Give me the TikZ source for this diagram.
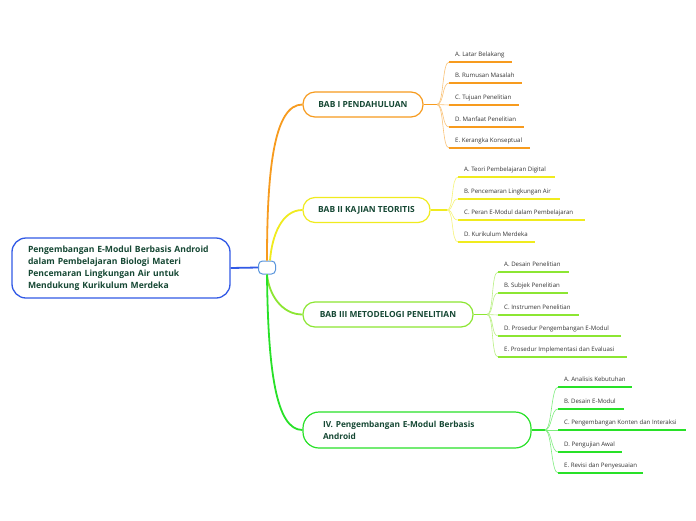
\documentclass[tikz,border=0pt]{standalone}
\usepackage{fontspec}
\setmainfont{Open Sans}
\definecolor{tealtext}{RGB}{22,72,52}
\definecolor{mapblue}{RGB}{50,90,230}
\definecolor{hubblue}{RGB}{90,150,220}
\definecolor{orangeA}{RGB}{247,155,30}
\definecolor{yellowA}{RGB}{240,235,30}
\definecolor{limeA}{RGB}{140,230,50}
\definecolor{greenA}{RGB}{40,225,40}

\begin{document}
\begin{tikzpicture}[
    x=1pt, y=-1pt,
    rootbox/.style={rectangle, rounded corners=14pt, draw=mapblue, line width=1.3pt, fill=white, text width=186pt, inner xsep=16pt, minimum height=60pt, align=left, font=\bfseries\fontsize{8.6}{12}\selectfont, text=tealtext},
    hubbox/.style={rectangle, rounded corners=4pt, draw=hubblue, line width=1pt, fill=white, minimum width=17pt, minimum height=13pt, inner sep=0pt},
    chapter/.style={rectangle, rounded corners=12pt, draw=#1, line width=1.2pt, fill=white, minimum height=25pt, inner sep=0pt, font=\bfseries\fontsize{8.4}{9}\selectfont, text=tealtext},
    branch/.style={draw=#1, line width=1.8pt},
    twig/.style={draw=#1!60, line width=0.6pt},
    topic/.style 2 args={anchor=south west, inner xsep=6pt, inner ysep=3.5pt, text height=4.5pt, text depth=1.5pt, font=\fontsize{6.1}{7}\selectfont, text=black!80,
      append after command={(\tikzlastnode.south west) edge[draw=#1, line width=1.4pt] ++(#2,0)}}
  ]
    \useasboundingbox[fill=white] (0,0) rectangle (696,520);

    \node[rootbox] (root) at (121,268) {Pengembangan E-Modul Berbasis Android\\dalam Pembelajaran Biologi Materi\\Pencemaran Lingkungan Air untuk\\Mendukung Kurikulum Merdeka};
    \node[hubbox] (hub) at (267,267.5) {};

    \node[chapter=orangeA, minimum width=120pt] (pend) at (363,104.5) {BAB I PENDAHULUAN};
    \node[chapter=yellowA, minimum width=127pt] (kajian) at (366.5,210) {BAB II KAJIAN TEORITIS};
    \node[chapter=limeA, minimum width=170pt] (metode) at (388,314.5) {BAB III METODELOGI PENELITIAN};
    \node[chapter=greenA, rounded corners=16pt, minimum height=36pt, text width=188pt, inner xsep=20pt, align=left, font=\bfseries\fontsize{8.3}{12}\selectfont] (modul) at (417,430) {IV. Pengembangan E-Modul Berbasis\\Android};

    \draw[branch=mapblue] (root.east) -- (hub.west);
    \draw[branch=orangeA] (hub.north) .. controls (267,170) and (274,104.5) .. (pend.west);
    \draw[branch=yellowA] ([xshift=3pt]hub.north) .. controls (272,235) and (282,210) .. (kajian.west);
    \draw[branch=limeA] (hub.south) .. controls (269,295) and (282,314.5) .. (metode.west);
    \draw[branch=greenA] (hub.south) .. controls (268,370) and (276,430) .. (modul.west);

    \coordinate (jpend) at (437,104.5);
    \coordinate (jkajian) at (447,210);
    \coordinate (jmetode) at (487,314.5);
    \coordinate (jmodul) at (545,430);

    \draw[orangeA, line width=1.2pt] (pend.east) -- (jpend);
    \draw[yellowA, line width=1.2pt] (kajian.east) -- (jkajian);
    \draw[limeA, line width=1.2pt] (metode.east) -- (jmetode);
    \draw[greenA, line width=1.2pt] (modul.east) -- (jmodul);

    % BAB I
    \node[topic={orangeA}{63}] (pa) at (449,62) {A. Latar Belakang};
    \node[topic={orangeA}{73}] (pb) at (449,83) {B. Rumusan Masalah};
    \node[topic={orangeA}{70}] (pc) at (449,105) {C. Tujuan Penelitian};
    \node[topic={orangeA}{75}] (pd) at (449,127) {D.\ Manfaat Penelitian};
    \node[topic={orangeA}{81}] (pe) at (449,148) {E. Kerangka Konseptual};
    \draw[twig=orangeA] (jpend) .. controls +(7,0) and +(-7,0) .. (pa.south west);
    \draw[twig=orangeA] (jpend) .. controls +(7,0) and +(-7,0) .. (pb.south west);
    \draw[twig=orangeA] (jpend) -- (pc.south west);
    \draw[twig=orangeA] (jpend) .. controls +(7,0) and +(-7,0) .. (pd.south west);
    \draw[twig=orangeA] (jpend) .. controls +(7,0) and +(-7,0) .. (pe.south west);

    % BAB II
    \node[topic={yellowA}{97}] (ka) at (458,177) {A. Teori Pembelajaran Digital};
    \node[topic={yellowA}{102}] (kb) at (458,199) {B. Pencemaran Lingkungan Air};
    \node[topic={yellowA}{127}] (kc) at (458,220) {C. Peran E-Modul dalam Pembelajaran};
    \node[topic={yellowA}{77}] (kd) at (458,242) {D. Kurikulum Merdeka};
    \draw[twig=yellowA] (jkajian) .. controls +(7,0) and +(-7,0) .. (ka.south west);
    \draw[twig=yellowA] (jkajian) .. controls +(7,0) and +(-7,0) .. (kb.south west);
    \draw[twig=yellowA] (jkajian) .. controls +(7,0) and +(-7,0) .. (kc.south west);
    \draw[twig=yellowA] (jkajian) .. controls +(7,0) and +(-7,0) .. (kd.south west);

    % BAB III
    \node[topic={limeA}{71}] (ma) at (498,272) {A. Desain Penelitian};
    \node[topic={limeA}{70}] (mb) at (498,293) {B. Subjek Penelitian};
    \node[topic={limeA}{81}] (mc) at (498,315) {C. Instrumen Penelitian};
    \node[topic={limeA}{123}] (md) at (498,336) {D. Prosedur Pengembangan E-Modul};
    \node[topic={limeA}{129}] (me) at (498,357) {E. Prosedur Implementasi dan Evaluasi};
    \draw[twig=limeA] (jmetode) .. controls +(7,0) and +(-7,0) .. (ma.south west);
    \draw[twig=limeA] (jmetode) .. controls +(7,0) and +(-7,0) .. (mb.south west);
    \draw[twig=limeA] (jmetode) -- (mc.south west);
    \draw[twig=limeA] (jmetode) .. controls +(7,0) and +(-7,0) .. (md.south west);
    \draw[twig=limeA] (jmetode) .. controls +(7,0) and +(-7,0) .. (me.south west);

    % IV
    \node[topic={greenA}{74}] (da) at (558,387) {A. Analisis Kebutuhan};
    \node[topic={greenA}{66}] (db) at (558,409) {B. Desain E-Modul};
    \node[topic={greenA}{128}] (dc) at (558,430) {C. Pengembangan Konten dan Interaksi};
    \node[topic={greenA}{64}] (dd) at (558,452) {D. Pengujian Awal};
    \node[topic={greenA}{85}] (de) at (558,473) {E. Revisi dan Penyesuaian};
    \draw[twig=greenA] (jmodul) .. controls +(7,0) and +(-7,0) .. (da.south west);
    \draw[twig=greenA] (jmodul) .. controls +(7,0) and +(-7,0) .. (db.south west);
    \draw[twig=greenA] (jmodul) -- (dc.south west);
    \draw[twig=greenA] (jmodul) .. controls +(7,0) and +(-7,0) .. (dd.south west);
    \draw[twig=greenA] (jmodul) .. controls +(7,0) and +(-7,0) .. (de.south west);
  \end{tikzpicture}
\end{document}
